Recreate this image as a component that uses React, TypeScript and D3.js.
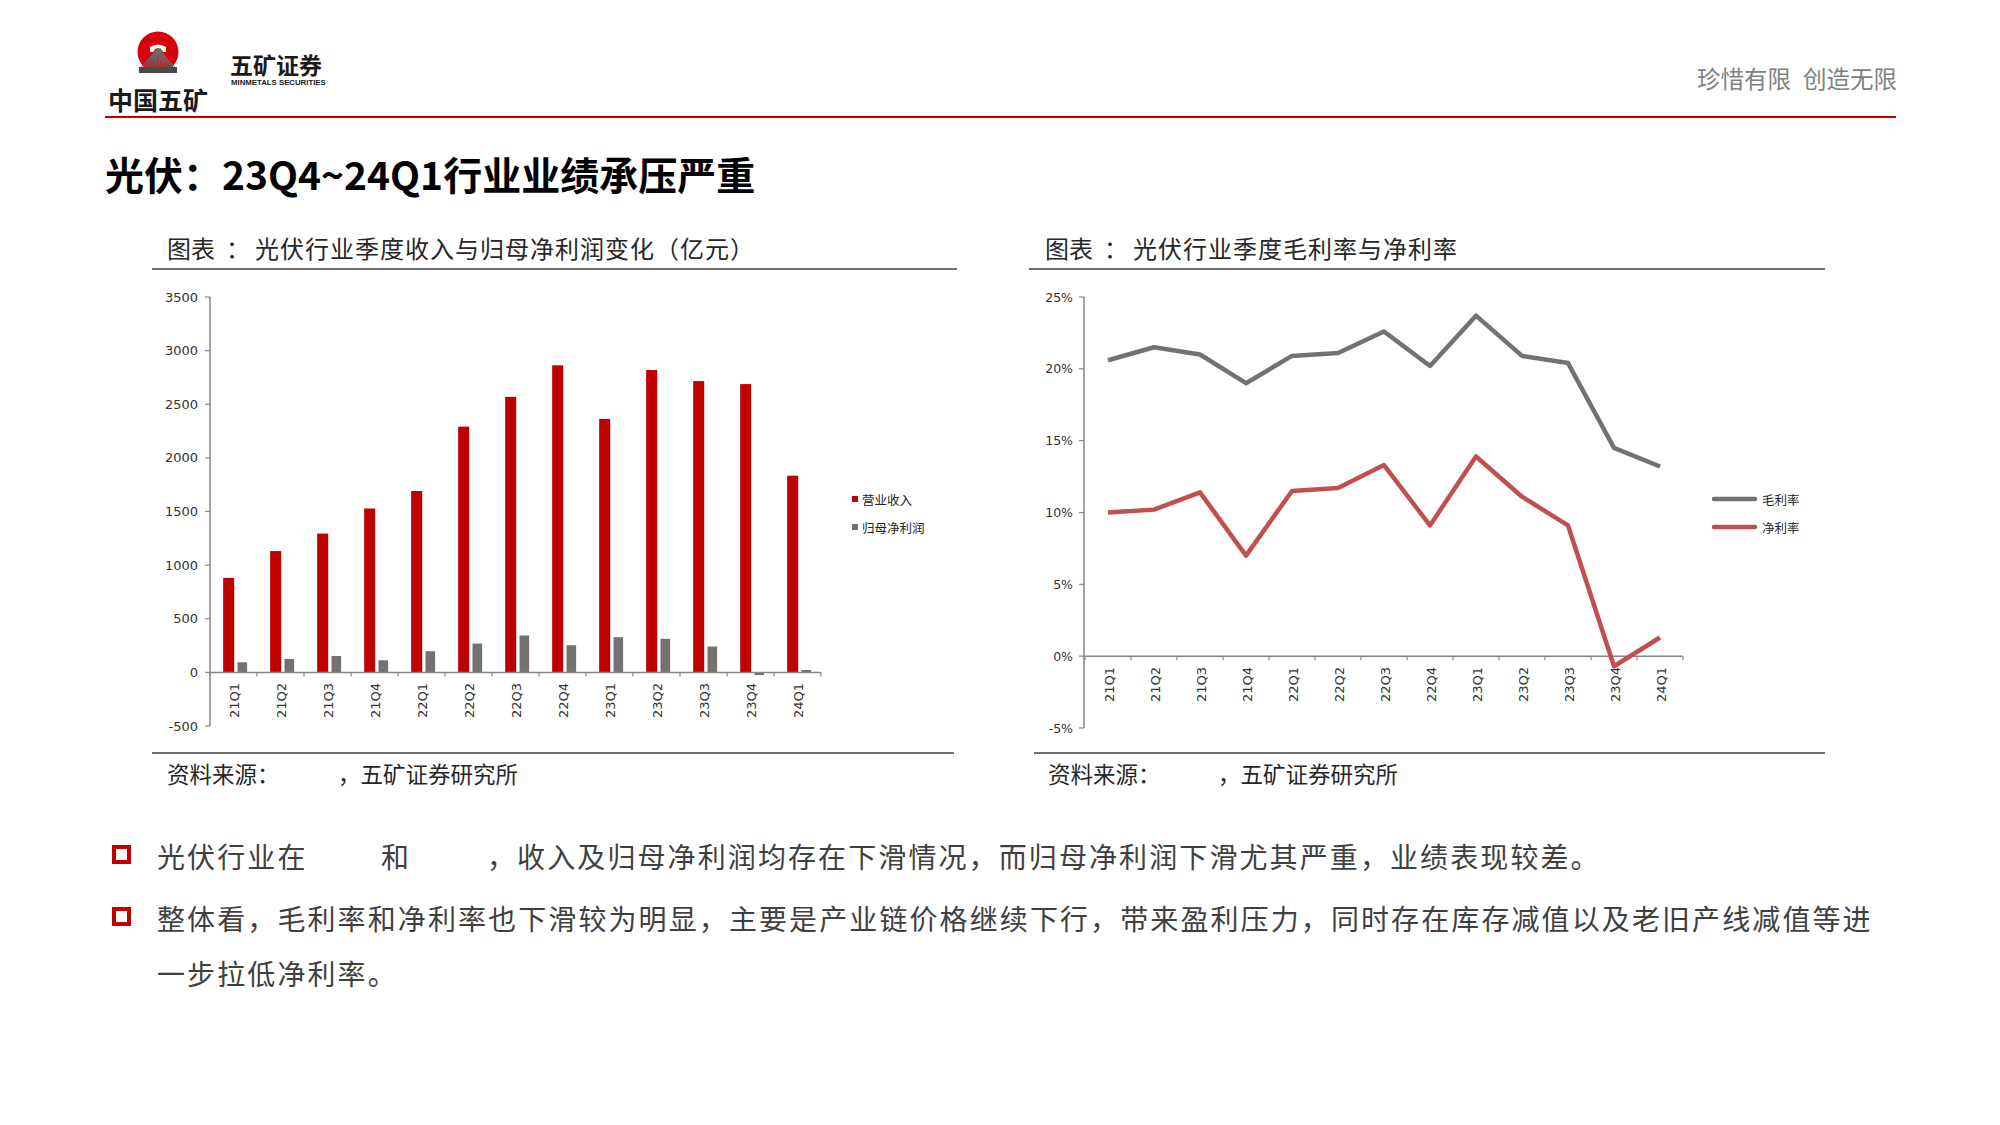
import React from 'react';
import * as d3 from 'd3';

// 季度
const quarters = ['21Q1', '21Q2', '21Q3', '21Q4', '22Q1', '22Q2', '22Q3', '22Q4', '23Q1', '23Q2', '23Q3', '23Q4', '24Q1'];
// 营业收入 / 归母净利润（亿元）
const revenue = [881, 1131, 1294, 1528, 1691, 2291, 2569, 2863, 2363, 2819, 2716, 2688, 1834];
const netProfit = [94, 125, 153, 113, 197, 269, 344, 253, 328, 313, 241, -25, 22];
// 毛利率 / 净利率（%）
const grossMargin = [20.6, 21.5, 21.0, 19.0, 20.9, 21.1, 22.6, 20.2, 23.7, 20.9, 20.4, 14.5, 13.2];
const netMargin = [10.0, 10.2, 11.4, 7.0, 11.5, 11.7, 13.3, 9.1, 13.9, 11.1, 9.1, -0.7, 1.3];

const revTicks = [-500, 0, 500, 1000, 1500, 2000, 2500, 3000, 3500];
const pctTicks = [-5, 0, 5, 10, 15, 20, 25];

const CJK = '"Noto Sans CJK SC", "Noto Sans", sans-serif';
const NUM = '"DejaVu Sans", "Liberation Sans", sans-serif';
const RED = '#c00000';
const GRAY = '#767171';
const LRED = '#c0504d';
const AXIS = '#868686';

function BarChart() {
  const x = d3.scaleBand<string>().domain(quarters).range([210, 821]);
  const y = d3.scaleLinear().domain([-500, 3500]).range([726, 297]);
  const bw = x.bandwidth();
  const y0 = y(0);
  const bounds = quarters.map((q) => x(q) as number).concat([821]);
  return (
    <g>
      {quarters.map((q, i) => (
        <g key={q}>
          <rect x={(x(q) as number) + bw * 0.28} width={bw * 0.235} y={y(revenue[i])} height={y0 - y(revenue[i])} fill={RED} />
          <rect
            x={(x(q) as number) + bw * 0.585}
            width={bw * 0.205}
            y={Math.min(y(netProfit[i]), y0)}
            height={Math.abs(y0 - y(netProfit[i]))}
            fill={GRAY}
          />
        </g>
      ))}
      <line x1={210} x2={210} y1={297} y2={726} stroke={AXIS} strokeWidth={1.5} />
      {revTicks.map((t) => (
        <g key={t}>
          <line x1={205} x2={210} y1={y(t)} y2={y(t)} stroke={AXIS} strokeWidth={1.2} />
          <text x={198} y={y(t)} textAnchor="end" dominantBaseline="central" fontFamily={NUM} fontSize={13} fill="#333">
            {t}
          </text>
        </g>
      ))}
      <line x1={210} x2={821} y1={y0} y2={y0} stroke={AXIS} strokeWidth={1.5} />
      {bounds.map((b, i) => (
        <line key={i} x1={b} x2={b} y1={y0} y2={y0 + 4} stroke={AXIS} strokeWidth={1.2} />
      ))}
      {quarters.map((q) => (
        <text
          key={q}
          transform={`translate(${(x(q) as number) + bw / 2 + 1},683) rotate(-90)`}
          textAnchor="end"
          dominantBaseline="central"
          fontFamily={NUM}
          fontSize={13}
          fill="#333"
        >
          {q}
        </text>
      ))}
      <rect x={852} y={496} width={6} height={6} fill={RED} />
      <text x={862} y={499.5} dominantBaseline="central" fontFamily={CJK} fontSize={12.5} fill="#222">营业收入</text>
      <rect x={852} y={524} width={6} height={6} fill={GRAY} />
      <text x={862} y={527.5} dominantBaseline="central" fontFamily={CJK} fontSize={12.5} fill="#222">归母净利润</text>
    </g>
  );
}

function LineChart() {
  const x = d3.scaleBand<string>().domain(quarters).range([1085, 1683]);
  const y = d3.scaleLinear().domain([-5, 25]).range([728, 297]);
  const bw = x.bandwidth();
  const y0 = y(0);
  const bounds = quarters.map((q) => x(q) as number).concat([1683]);
  const line = d3
    .line<number>()
    .x((_, i) => (x(quarters[i]) as number) + bw / 2)
    .y((d) => y(d));
  return (
    <g>
      <line x1={1084} x2={1084} y1={297} y2={728} stroke={AXIS} strokeWidth={1.5} />
      {pctTicks.map((t) => (
        <g key={t}>
          <line x1={1079} x2={1084} y1={y(t)} y2={y(t)} stroke={AXIS} strokeWidth={1.2} />
          <text x={1073} y={y(t)} textAnchor="end" dominantBaseline="central" fontFamily={NUM} fontSize={12.5} fill="#333">
            {t}%
          </text>
        </g>
      ))}
      <line x1={1084} x2={1683} y1={y0} y2={y0} stroke={AXIS} strokeWidth={1.5} />
      {bounds.map((b, i) => (
        <line key={i} x1={b} x2={b} y1={y0} y2={y0 + 4} stroke={AXIS} strokeWidth={1.2} />
      ))}
      {quarters.map((q) => (
        <text
          key={q}
          transform={`translate(${(x(q) as number) + bw / 2 + 1},667) rotate(-90)`}
          textAnchor="end"
          dominantBaseline="central"
          fontFamily={NUM}
          fontSize={13}
          fill="#333"
        >
          {q}
        </text>
      ))}
      <path d={line(grossMargin) || ''} fill="none" stroke={GRAY} strokeWidth={4.5} strokeLinejoin="round" />
      <path d={line(netMargin) || ''} fill="none" stroke={LRED} strokeWidth={4.5} strokeLinejoin="round" />
      <line x1={1714} x2={1755} y1={499} y2={499} stroke={GRAY} strokeWidth={4.5} strokeLinecap="round" />
      <text x={1762} y={499.5} dominantBaseline="central" fontFamily={CJK} fontSize={12.5} fill="#222">毛利率</text>
      <line x1={1714} x2={1755} y1={527} y2={527} stroke={LRED} strokeWidth={4.5} strokeLinecap="round" />
      <text x={1762} y={527.5} dominantBaseline="central" fontFamily={CJK} fontSize={12.5} fill="#222">净利率</text>
    </g>
  );
}

function Logo() {
  const rays = d3.range(-8, 9);
  return (
    <g>
      <circle cx={158} cy={52} r={20.5} fill="#d7000f" />
      <path d="M150,52 L150,47 Q158,42 166,47 L166,52 L163,52 L160,48 L158,50 L156,48 L153,52 Z" fill="#fff" />
      {rays.map((r) => (
        <line key={r} x1={158} y1={48} x2={158 + r * 2.2} y2={68} stroke="#6b6b6b" strokeWidth={1} />
      ))}
      <rect x={139} y={67} width={38} height={6} fill="#4a4a4a" />
      <text x={158} y={99} textAnchor="middle" dominantBaseline="central" fontFamily={CJK} fontWeight={700} fontSize={25} fill="#1a1a1a">
        中国五矿
      </text>
      <text x={230} y={64} dominantBaseline="central" fontFamily={CJK} fontWeight={700} fontSize={23} fill="#1a1a1a">
        五矿证券
      </text>
      <text x={231} y={82} dominantBaseline="central" fontFamily='"Liberation Sans", sans-serif' fontWeight={700} fontSize={7.8} fill="#1a1a1a">
        MINMETALS SECURITIES
      </text>
    </g>
  );
}

export default function App() {
  return (
    <svg width={2000} height={1125} style={{ position: 'absolute', left: 0, top: 0, background: '#fff' }}>
      <rect width={2000} height={1125} fill="#fff" />
      <Logo />
      <text x={1697} y={78} dominantBaseline="central" fontFamily={CJK} fontSize={23.5} fill="#808080">珍惜有限</text>
      <text x={1897} y={78} textAnchor="end" dominantBaseline="central" fontFamily={CJK} fontSize={23.5} fill="#808080">创造无限</text>
      <line x1={105} x2={1896} y1={117} y2={117} stroke={RED} strokeWidth={2} />
      <text x={105} y={173} dominantBaseline="central" fontFamily={CJK} fontWeight={700} fontSize={39} fill="#000">
        光伏：23Q4~24Q1行业业绩承压严重
      </text>

      <g fontFamily={CJK} fontSize={24} fill="#262626" dominantBaseline="central">
        <text x={167} y={247}>图表</text>
        <text x={226} y={247}>：</text>
        <text x={255} y={247} letterSpacing={1}>光伏行业季度收入与归母净利润变化（亿元）</text>
        <text x={1045} y={247}>图表</text>
        <text x={1104} y={247}>：</text>
        <text x={1133} y={247} letterSpacing={1}>光伏行业季度毛利率与净利率</text>
      </g>
      <line x1={152} x2={957} y1={269} y2={269} stroke="#404040" strokeWidth={1.5} />
      <line x1={1029} x2={1825} y1={269} y2={269} stroke="#404040" strokeWidth={1.5} />

      <BarChart />
      <LineChart />

      <line x1={152} x2={954} y1={753} y2={753} stroke="#404040" strokeWidth={1.5} />
      <line x1={1034} x2={1825} y1={753} y2={753} stroke="#404040" strokeWidth={1.5} />
      <g fontFamily={CJK} fontSize={22.5} fill="#262626" dominantBaseline="central">
        <text x={167} y={773}>资料来源：</text>
        <text x={338} y={773}>，五矿证券研究所</text>
        <text x={1048} y={773}>资料来源：</text>
        <text x={1218} y={773}>，五矿证券研究所</text>
      </g>

      <rect x={114} y={847} width={15} height={15} fill="none" stroke={RED} strokeWidth={4} />
      <rect x={114} y={909} width={15} height={15} fill="none" stroke={RED} strokeWidth={4} />
      <g fontFamily={CJK} fontSize={28} fill="#404040" letterSpacing={2.1} dominantBaseline="central">
        <text x={157} y={856}>光伏行业在</text>
        <text x={381} y={856}>和</text>
        <text x={487} y={856}>，收入及归母净利润均存在下滑情况，而归母净利润下滑尤其严重，业绩表现较差。</text>
        <text x={157} y={918}>整体看，毛利率和净利率也下滑较为明显，主要是产业链价格继续下行，带来盈利压力，同时存在库存减值以及老旧产线减值等进</text>
        <text x={157} y={973}>一步拉低净利率。</text>
      </g>
    </svg>
  );
}
